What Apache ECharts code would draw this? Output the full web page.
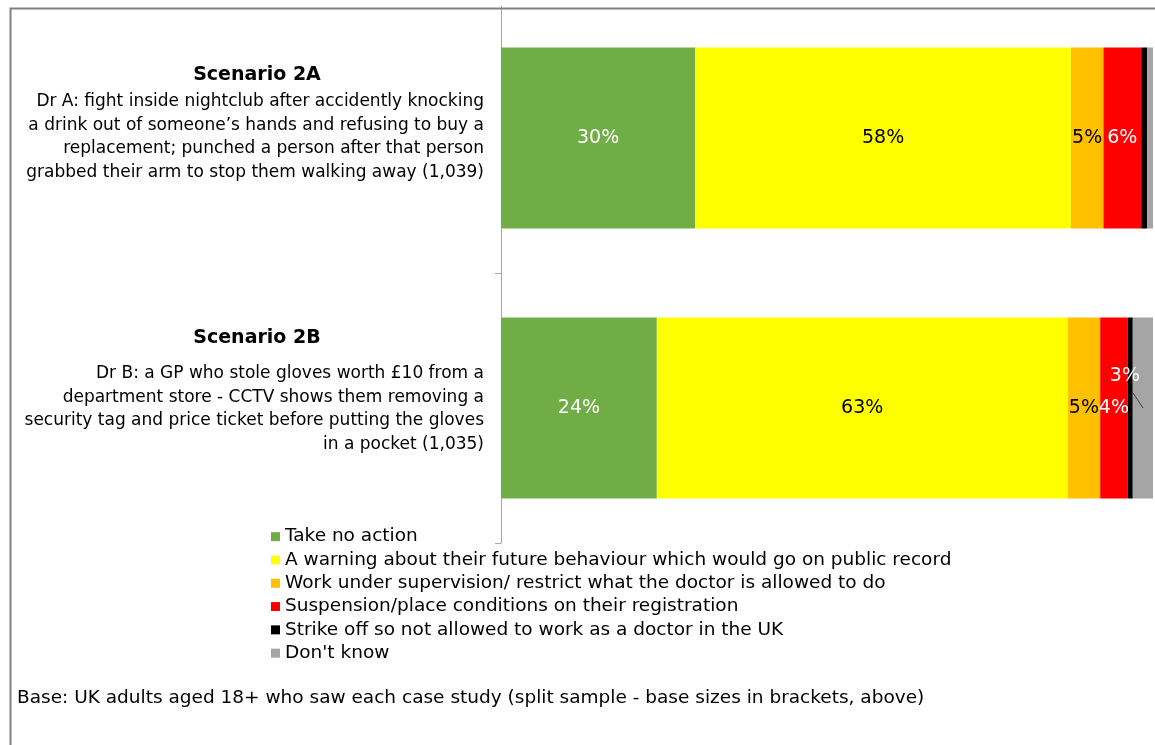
<!DOCTYPE html>
<html>
<head>
<meta charset="utf-8">
<script src="https://cdn.jsdelivr.net/npm/echarts@6/dist/echarts.min.js"></script>
<style>
  html, body { margin: 0; padding: 0; background: #fff; }
  #chart { width: 1155px; height: 745px; }
</style>
</head>
<body>
<div id="chart"></div>
<script>
// categories and their descriptions
const scenarios = ['Scenario 2A', 'Scenario 2B'];
const descriptions = [
  'Dr A: fight inside nightclub after accidently knocking\na drink out of someone\u2019s hands and refusing to buy a\nreplacement; punched a person after that person\ngrabbed their arm to stop them walking away (1,039)',
  'Dr B: a GP who stole gloves worth \u00a310 from a\ndepartment store - CCTV shows them removing a\nsecurity tag and price ticket before putting the gloves\nin a pocket (1,035)'
];

// series names (legend)
const seriesNames = [
  'Take no action',
  'A warning about their future behaviour which would go on public record',
  'Work under supervision/ restrict what the doctor is allowed to do',
  'Suspension/place conditions on their registration',
  'Strike off so not allowed to work as a doctor in the UK',
  "Don't know"
];

// values in %, per scenario
const noAction = [29.8, 23.9];
const warning = [57.6, 63.0];
const supervision = [5.0, 5.0];
const suspension = [5.8, 4.2];
const strikeOff = [0.9, 0.8];
const dontKnow = [0.9, 3.1];

const colors = ['#70AD47', '#FFFF00', '#FFC000', '#FF0000', '#000000', '#A5A5A5'];
const labelColors = ['#fff', '#000', '#000', '#fff', '#fff', '#fff'];

const FONT = 'DejaVu Sans';

const chart = echarts.init(document.getElementById('chart'));

const allValues = [noAction, warning, supervision, suspension, strikeOff, dontKnow];

const series = allValues.map((vals, i) => ({
  name: seriesNames[i],
  type: 'bar',
  stack: 'total',
  barCategoryGap: '33%',
  data: vals,
  itemStyle: { color: colors[i] },
  label: {
    show: true,
    position: 'inside',
    color: labelColors[i],
    fontFamily: FONT,
    fontSize: 19,
    formatter: (p) => (p.value >= 2 ? Math.round(p.value) + '%' : '')
  },
  // small "don't know" label of 2B sits above, moved out of the way
  labelLayout: i === 5 ? (p) => (p.dataIndex === 1 ? { dx: -18, dy: -32 } : {}) : undefined,
  emphasis: { disabled: true }
}));

// scenario text blocks on the left
const graphics = [
  { type: 'rect', left: 0, top: 0, z: 100, shape: { width: 1155, height: 6 }, style: { fill: '#fff' }, silent: true },
  { type: 'rect', left: 8, top: 6, z: 101, shape: { width: 1200, height: 800 }, style: { fill: 'none', stroke: '#808080', lineWidth: 2 }, silent: true },
  { type: 'line', z: 101, shape: { x1: 1133, y1: 393, x2: 1143, y2: 408 }, style: { stroke: '#404040', lineWidth: 1 }, silent: true }
];
const titleY = [75, 338];
const descTop = [90, 362];
scenarios.forEach((s, i) => {
  graphics.push({
    type: 'text', x: 257, y: titleY[i],
    style: { text: s, font: 'bold 19px "' + FONT + '"', fill: '#000', textAlign: 'center', textVerticalAlign: 'middle' }
  });
  graphics.push({
    type: 'text', x: 484, y: descTop[i],
    style: { text: descriptions[i], font: '17px "' + FONT + '"', fill: '#000', textAlign: 'right', textVerticalAlign: 'top', lineHeight: 23.5 }
  });
});
graphics.push({
  type: 'text', x: 17, y: 698,
  style: { text: 'Base: UK adults aged 18+ who saw each case study (split sample - base sizes in brackets, above)', font: '18.5px "' + FONT + '"', fill: '#000', textVerticalAlign: 'middle' }
});

chart.setOption({
  animation: false,
  backgroundColor: '#fff',
  grid: { left: 501, right: 2, top: 3, bottom: 202, containLabel: false },
  xAxis: {
    type: 'value', min: 0, max: 100, show: false
  },
  yAxis: {
    type: 'category',
    data: scenarios,
    inverse: true,
    axisLine: { show: true, lineStyle: { color: '#A6A6A6', width: 1 } },
    axisTick: { show: true, length: 6, lineStyle: { color: '#A6A6A6' } },
    axisLabel: { show: false }
  },
  legend: {
    orient: 'vertical',
    left: 266,
    top: 520,
    itemWidth: 9,
    itemHeight: 9,
    itemGap: 0,
    icon: 'rect',
    selectedMode: false,
    data: seriesNames,
    textStyle: { fontFamily: FONT, fontSize: 18.5, color: '#000', lineHeight: 23.3, padding: [0, 0, 0, 0] }
  },
  graphic: graphics,
  series: series
});
</script>
</body>
</html>
